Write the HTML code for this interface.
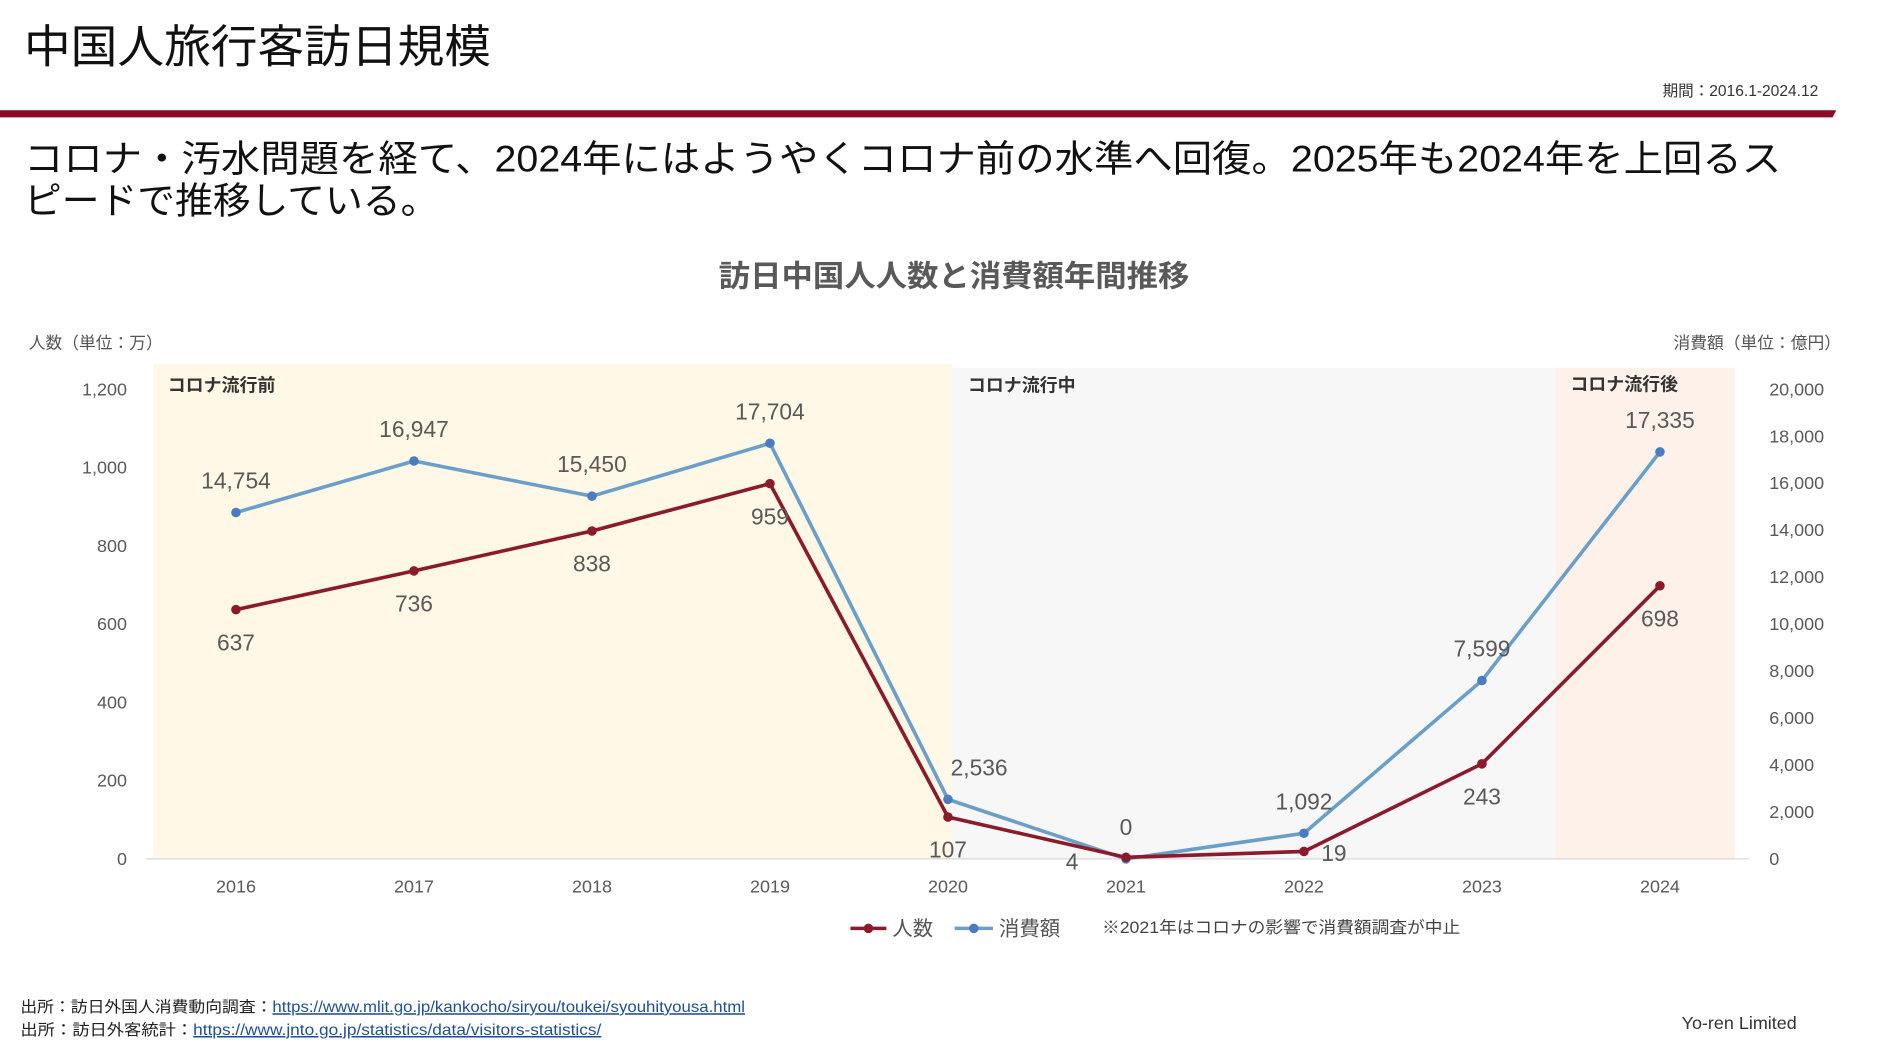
<!DOCTYPE html>
<html><head><meta charset="utf-8"><style>
html,body{margin:0;padding:0;background:#fff;}
svg{display:block;font-family:"Liberation Sans","Noto Sans CJK JP",sans-serif;}
</style></head><body>
<svg id="c" width="1877" height="1047" viewBox="0 0 1567 874">
<text x="20" y="52" font-size="38" fill="#111" textLength="390" lengthAdjust="spacingAndGlyphs">中国人旅行客訪日規模</text>
<text x="1518" y="80" font-size="13" fill="#333" text-anchor="end">期間：2016.1-2024.12</text>
<polygon points="0,92 1533,92 1530,98 0,98" fill="#8B0A25"/>
<text x="20" y="143" font-size="31" fill="#111" textLength="1467" lengthAdjust="spacingAndGlyphs">コロナ・汚水問題を経て、2024年にはようやくコロナ前の水準へ回復。2025年も2024年を上回るス</text>
<text x="20" y="178" font-size="31" fill="#111" textLength="346" lengthAdjust="spacingAndGlyphs">ピードで推移している。</text>
<text x="600" y="239" font-size="25" font-weight="bold" fill="#595959" textLength="393" lengthAdjust="spacingAndGlyphs">訪日中国人人数と消費額年間推移</text>
<text x="24" y="291" font-size="14" fill="#555">人数（単位：万）</text>
<text x="1537" y="291" font-size="14" fill="#555" text-anchor="end">消費額（単位：億円）</text>
<rect x="128" y="304" width="667" height="413" fill="#FFF8E6"/>
<rect x="795" y="307" width="504" height="410" fill="#F7F7F7"/>
<rect x="1299" y="307" width="149" height="410" fill="#FDF1EA"/>
<text x="140" y="327" font-size="15" font-weight="bold" fill="#333">コロナ流行前</text>
<text x="808" y="327" font-size="15" font-weight="bold" fill="#333">コロナ流行中</text>
<text x="1311" y="326" font-size="15" font-weight="bold" fill="#333">コロナ流行後</text>
<line x1="122" y1="717" x2="1460" y2="717" stroke="#d9d9d9" stroke-width="1"/>
<g id="g"></g>
<line x1="710" y1="775" x2="740" y2="775" stroke="#8B1A2B" stroke-width="3"/>
<circle cx="725" cy="775" r="4" fill="#8B1A2B"/>
<text x="745" y="781" font-size="17" fill="#555">人数</text>
<line x1="797" y1="775" x2="829" y2="775" stroke="#6A9FCA" stroke-width="3"/>
<circle cx="813" cy="775" r="4" fill="#4A7CC0"/>
<text x="834" y="781" font-size="17" fill="#555">消費額</text>
<text x="920" y="779" font-size="14" fill="#444" textLength="299" lengthAdjust="spacingAndGlyphs">※2021年はコロナの影響で消費額調査が中止</text>
<text x="17" y="845" font-size="13" fill="#222" textLength="605" lengthAdjust="spacingAndGlyphs">出所：訪日外国人消費動向調査：<tspan fill="#1F4E9C" text-decoration="underline">https://www.mlit.go.jp/kankocho/siryou/toukei/syouhityousa.html</tspan></text>
<text x="17" y="864" font-size="13" fill="#222" textLength="485" lengthAdjust="spacingAndGlyphs">出所：訪日外客統計：<tspan fill="#1F4E9C" text-decoration="underline">https://www.jnto.go.jp/statistics/data/visitors-statistics/</tspan></text>
<text x="1500" y="859" font-size="15" fill="#333" text-anchor="end">Yo-ren Limited</text>
</svg>
<script>
const years=['2016','2017','2018','2019','2020','2021','2022','2023','2024'];
const persons=[637,736,838,959,107,4,19,243,698];
const spend=[14754,16947,15450,17704,2536,0,1092,7599,17335];
const leftTicks=[0,200,400,600,800,1000,1200];
const rightTicks=[0,2000,4000,6000,8000,10000,12000,14000,16000,18000,20000];
const NS='http://www.w3.org/2000/svg';
const g=document.getElementById('g');
const X=i=>197+i*148.6;
const YL=v=>717-v/1200*392;
const YR=v=>717-v/20000*392;
const fmt=v=>v.toLocaleString('en-US');
function mk(t,a){const e=document.createElementNS(NS,t);for(const k in a)e.setAttribute(k,a[k]);g.appendChild(e);return e;}
leftTicks.forEach(v=>{const t=mk('text',{x:106,y:YL(v)+5,'font-size':15,fill:'#595959','text-anchor':'end'});t.textContent=fmt(v);

});
rightTicks.forEach(v=>{const t=mk('text',{x:1477,y:YR(v)+5,'font-size':15,fill:'#595959'});t.textContent=fmt(v);

});
years.forEach((y,i)=>{const t=mk('text',{x:X(i),y:745,'font-size':15,fill:'#595959','text-anchor':'middle'});t.textContent=y;

});
const bl=mk('polyline',{points:spend.map((v,i)=>X(i)+','+YR(v)).join(' '),fill:'none',stroke:'#6A9FCA','stroke-width':3});


const rl=mk('polyline',{points:persons.map((v,i)=>X(i)+','+YL(v)).join(' '),fill:'none',stroke:'#8B1A2B','stroke-width':3});


spend.forEach((v,i)=>{const c=mk('circle',{cx:X(i),cy:YR(v),r:4,fill:'#4A7CC0'});


const dx=i==4?26:0;
const t=mk('text',{x:X(i)+dx,y:YR(v)-20,'font-size':19,fill:'#595959','text-anchor':'middle'});t.textContent=fmt(v);

});
persons.forEach((v,i)=>{const c=mk('circle',{cx:X(i),cy:YL(v),r:4,fill:'#8B1A2B'});


let dx=0,dy=34;if(i==5){dx=-45;dy=10;}if(i==6){dx=25;dy=8;}
const t=mk('text',{x:X(i)+dx,y:YL(v)+dy,'font-size':19,fill:'#595959','text-anchor':'middle'});t.textContent=fmt(v);

});
</script>
</body></html>
